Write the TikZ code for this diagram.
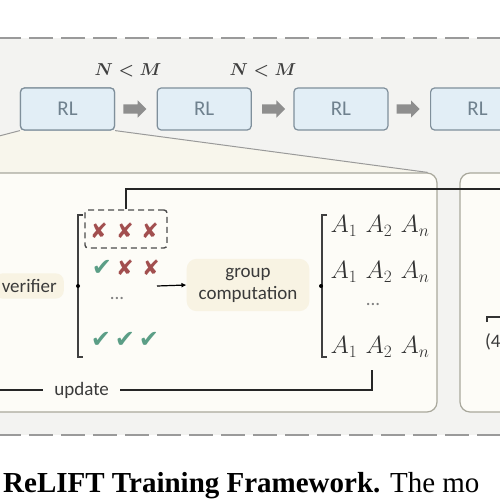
\documentclass[tikz,border=0pt]{standalone}
\usepackage{fontspec}
\setmainfont{Liberation Serif}
\newfontfamily\figfont{Carlito}
\newfontfamily\symfont{DejaVu Sans}
\usetikzlibrary{arrows.meta, positioning, shapes.arrows}

\definecolor{bandgray}{HTML}{F3F3F1}
\definecolor{dashgray}{HTML}{9A9A9A}
\definecolor{rlfill}{HTML}{E2EEF6}
\definecolor{rlborder}{HTML}{7F8F9B}
\definecolor{rltext}{HTML}{6F818E}
\definecolor{arrowgray}{HTML}{8E8E8E}
\definecolor{panelfill}{HTML}{FDFCF7}
\definecolor{panelborder}{HTML}{A9A89C}
\definecolor{zoomfill}{HTML}{F8F6EC}
\definecolor{creamhl}{HTML}{F8F3E3}
\definecolor{failred}{HTML}{A24F4F}
\definecolor{passgreen}{HTML}{5B9E86}
\definecolor{inktext}{HTML}{3A3A3A}

\begin{document}
\begin{tikzpicture}[
x=1pt, y=-1pt,
every node/.style={
inner sep=0pt,
text=inktext,
font=\figfont\fontsize{19}{22}\selectfont
},
rlbox/.style={
draw=rlborder,
fill=rlfill,
line width=1.2pt,
rounded corners=4pt,
minimum width=94pt,
minimum height=42pt,
text=rltext,
font=\figfont\fontsize{21}{24}\selectfont
},
blockarrow/.style={
single arrow,
fill=arrowgray,
draw=none,
inner sep=4.5pt,
minimum height=23pt,
single arrow head extend=4pt
},
panel/.style={
draw=panelborder,
fill=panelfill,
line width=1.2pt,
rounded corners=10pt
},
failglyph/.style={font=\symfont\fontsize{21}{24}\selectfont, text=failred},
passglyph/.style={font=\symfont\fontsize{24}{26}\selectfont, text=passgreen},
advrow/.style={font=\fontsize{23}{26}\selectfont, text=black!80},
flowline/.style={line width=1.4pt, draw=black!85},
bracketline/.style={line width=1.5pt, draw=black!75},
zoomline/.style={line width=1pt, draw=dashgray},
node distance=41.5pt
]

\useasboundingbox (0,0) rectangle (500,500);
\clip (0,0) rectangle (500,500);

% ------------------------
% Background band
% ------------------------
\fill[bandgray] (-5,38) rectangle (505,435);
\draw[dashgray, line width=1.3pt, dash pattern=on 24pt off 8pt] (-3,38) -- (505,38);
\draw[dashgray, line width=1.3pt, dash pattern=on 24pt off 8pt] (-3,435) -- (505,435);

% ------------------------
% RL stages (top)
% ------------------------
\node[rlbox] (rl1) at (67.5,109) {RL};
\node[rlbox, right=of rl1] (rl2) {RL};
\node[rlbox, right=of rl2] (rl3) {RL};
\node[rlbox, right=of rl3] (rl4) {RL};

\node[blockarrow, right=8pt of rl1] (arr1) {};
\node[blockarrow, right=10pt of rl2] (arr2) {};
\node[blockarrow, right=8pt of rl3] (arr3) {};

\node[font=\fontsize{18}{20}\selectfont\boldmath, text=black!75] (cond1) at (128,70) {$N<M$};
\node[font=\fontsize{18}{20}\selectfont\boldmath, text=black!75] (cond2) at (263,70) {$N<M$};

% ------------------------
% Panels
% ------------------------
\node[panel, minimum width=577pt, minimum height=239pt] (loop) at (148.5,292.5) {};
\node[panel, minimum width=140pt, minimum height=239pt] (next) at (530,292.5) {};

% zoom from the first stage into the panel
\fill[zoomfill] (rl1.south west) -- (rl1.south east)
  -- ([xshift=-10pt, yshift=0.6pt]loop.north east) -- ([yshift=0.6pt]loop.north west) -- cycle;
\draw[zoomline] (rl1.south west) -- (loop.north west);
\draw[zoomline] (rl1.south east) -- ([xshift=-10pt]loop.north east);
\node[rlbox] at (rl1) {RL};

% ------------------------
% Verifier and rollouts
% ------------------------
\node[fill=creamhl, rounded corners=8pt, inner xsep=7pt, inner ysep=6pt, anchor=east] (verifier) at (64,286) {verifier};

\coordinate (lbtop) at (78,215);
\coordinate (lbbot) at (78,357);
\draw[bracketline] ([xshift=5pt]lbtop) -- (lbtop) -- (lbbot) -- ([xshift=5pt]lbbot);
\fill[black] (78,286) circle (2pt);

\node[draw=black!70, line width=1.4pt, dash pattern=on 6pt off 4pt, rounded corners=3pt,
  minimum width=82pt, minimum height=38pt] (fail) at (126,229) {};

\node[failglyph] (x11) at (99,231) {✘};
\node[failglyph] (x12) at (125,231) {✘};
\node[failglyph] (x13) at (150,231) {✘};

\node[passglyph] (x21) at (102,268) {✔};
\node[failglyph] (x22) at (125,268) {✘};
\node[failglyph] (x23) at (151,268) {✘};

\node[text=black!50] (dots1) at (117,298) {...};

\node[passglyph] (x41) at (101,340) {✔};
\node[passglyph] (x42) at (125,340) {✔};
\node[passglyph] (x43) at (149,340) {✔};

% ------------------------
% Group computation and advantages
% ------------------------
\node[fill=creamhl, rounded corners=10pt, inner xsep=12pt, inner ysep=9pt, align=center] (group) at (248,285)
{group\\computation};

\coordinate (rolls) at (157,286);
\draw[line width=1.2pt, -{Latex[length=5pt, width=5pt]}] (rolls) -- (group.west);

\coordinate (rbtop) at (322,215);
\coordinate (rbbot) at (322,357);
\draw[bracketline] ([xshift=5pt]rbtop) -- (rbtop) -- (rbbot) -- ([xshift=5pt]rbbot);
\fill[black] (321,286) circle (2pt);

\node[advrow] (adv1) at (380,226) {$A_1\,\,A_2\,\,A_n$};
\node[advrow] (adv2) at (380,272) {$A_1\,\,A_2\,\,A_n$};
\node[text=black!50] (dots2) at (373,304) {...};
\node[advrow] (adv3) at (380,347) {$A_1\,\,A_2\,\,A_n$};

% ------------------------
% Feedback lines
% ------------------------
\coordinate (exit) at (510,189);
\draw[flowline] (fail.north) |- (exit);

\coordinate (updstart) at (372,370);
\coordinate (updend) at (-10,390);
\draw[flowline] (updstart) |- node[pos=0.88, fill=panelfill, inner xsep=11pt, inner ysep=3pt] (update) {update} (updend);

% ------------------------
% Next panel (cut off)
% ------------------------
\coordinate (nexttick) at (487,322);
\coordinate (nextline) at (510,317);
\draw[line width=1.4pt, draw=black!80] (nexttick) |- (nextline);
\node[anchor=west] (nextlbl) at (485,342) {(4};

% ------------------------
% Caption
% ------------------------
\node[anchor=base west, text=black, font=\rmfamily\fontsize{29}{32}\selectfont] (caption) at (3,492)
{\textbf{ReLIFT Training Framework.} The mo};

\end{tikzpicture}
\end{document}
